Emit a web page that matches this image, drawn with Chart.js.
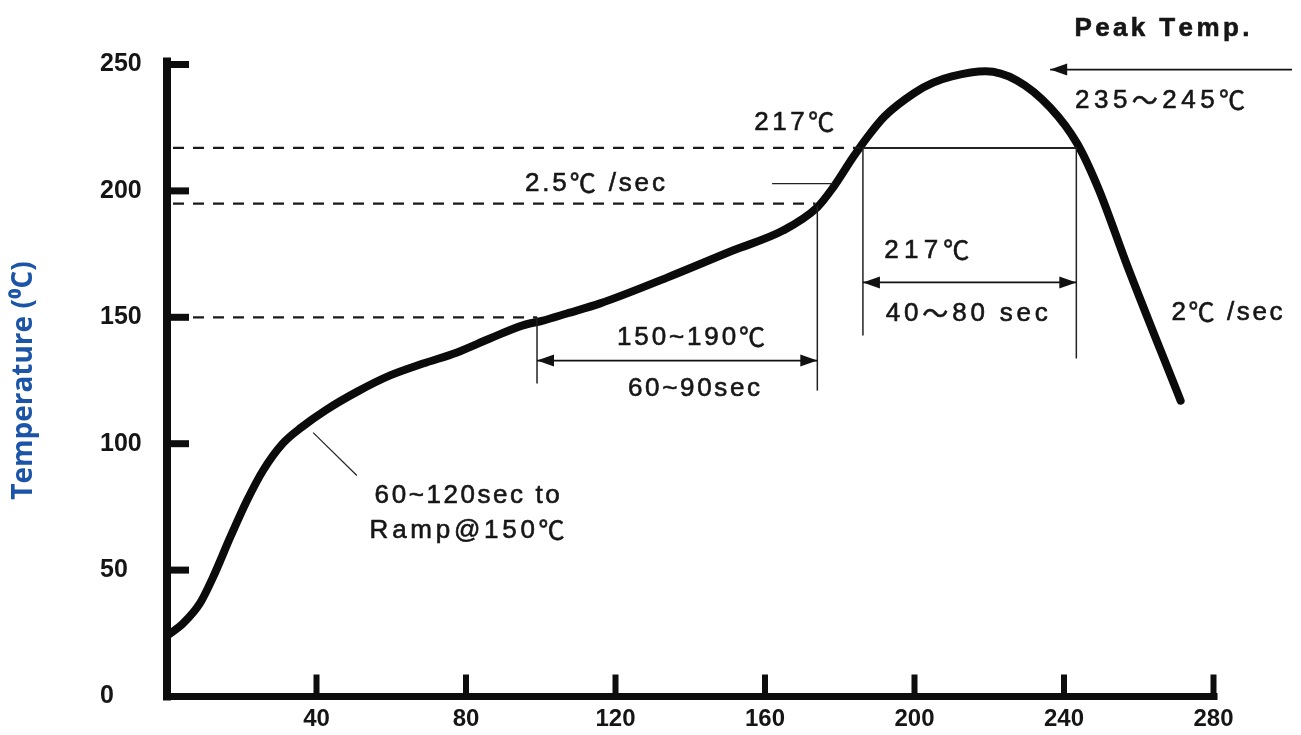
<!DOCTYPE html>
<html>
<head>
<meta charset="utf-8">
<script src="https://cdn.jsdelivr.net/npm/chart.js@4.4.1/dist/chart.umd.min.js"></script>
<style>
html,body{margin:0;padding:0;background:#fff;}
#wrap{width:1301px;height:735px;position:relative;}
</style>
</head>
<body>
<div id="wrap"><canvas id="c" width="1301" height="735"></canvas></div>
<script>
const timeSec = [0, 4.3, 8.8, 12.3, 16.9, 21.4, 25.7, 31, 36, 42.5, 50.8, 59.7, 68.5, 77.6, 86.4, 95.2, 100.6, 107, 115.9, 133.8, 151.4, 164.8, 173.9, 178.2, 183.5, 187.3, 192, 200, 205, 210, 219, 227.4, 236.3, 243.5, 249.1, 257.1, 271.2];
const tempC   = [24, 28.9, 36.8, 47.1, 62.9, 77.5, 89.4, 100.1, 106.5, 113.3, 120.5, 127, 131.7, 136.1, 141.6, 146.8, 148.7, 151.5, 155.5, 165.7, 176.4, 184.3, 193.4, 201.3, 213.2, 221.1, 229.5, 238.8, 242.8, 245.3, 247.3, 243.7, 233, 218.8, 201.3, 169.7, 117];
const xTickValues = [40, 80, 120, 160, 200, 240, 280];
const yTickValues = [0, 50, 100, 150, 200, 250];
const dashedLevels = [217, 195, 150];          // °C
const dashedEndTimes = [185.5, 173.5, 99];     // sec where curve is met

// ---- annotation geometry (in data units: sec, °C) ----
const guideLines = [
  {t0:186.2, T0:217, t1:243.5, T1:217, w:2},
  {t0:99,    T0:150, t1:99,    T1:123.8, w:1.5},
  {t0:174,   T0:194, t1:174,   T1:121,   w:1.5},
  {t0:186.2, T0:217, t1:186.2, T1:142.8, w:1.5},
  {t0:243.3, T0:217, t1:243.3, T1:133.7, w:1.5},
  {t0:161.9, T0:202.9, t1:178.2, T1:202.9, w:1.3},
  {t0:39.1,  T0:104.4, t1:50.8,  T1:87.4, w:1.2}
];
const arrows = [
  {t0:99,    t1:174,   T:132.9, both:true},
  {t0:186.2, t1:243.3, T:163.8, both:true},
  {t0:301,   t1:236.3, T:248,   both:false}
];
const notes = [
  {text:'217℃',         t:167.8, T:227.1, w:80},
  {text:'2.5℃ /sec',    t:114.5, T:202.9, w:140},
  {text:'150~190℃',     t:140.2, T:142,   w:148},
  {text:'60~90sec',      t:141,   T:121.8, w:132},
  {text:'217℃',         t:203.3, T:176.4, w:85},
  {text:'40〜80 sec',    t:214,   T:151.5, w:162},
  {text:'Peak Temp.',    t:266.2, T:264.2, w:175, bold:true},
  {text:'235〜245℃',    t:265.7, T:235.8, w:170},
  {text:'2℃ /sec',      t:283.6, T:151.9, w:111},
  {text:'60~120sec to',  t:80.3,  T:79.5,  w:185},
  {text:'Ramp@150℃',    t:80.3,  T:65.7,  w:195}
];

const FONT = "'Liberation Sans', Arial, sans-serif";
const CJK = "'Noto Sans CJK SC', 'Noto Sans CJK JP', sans-serif";

function drawNote(ctx, n, cx, cy) {
  const chars = [...n.text];
  const fonts = chars.map(ch => {
    if (ch === '℃' || ch === '〜') return (n.bold ? 'bold ' : '') + '26px ' + CJK;
    return (n.bold ? 'bold ' : '') + '26px ' + FONT;
  });
  const widths = chars.map((ch, i) => { ctx.font = fonts[i]; return ctx.measureText(ch).width; });
  const total = widths.reduce((a, b) => a + b, 0);
  const sp = Math.max(-1, (n.w - total) / Math.max(1, chars.length - 1));
  let xx = cx - (total + sp * (chars.length - 1)) / 2;
  ctx.textAlign = 'left';
  ctx.textBaseline = 'middle';
  chars.forEach((ch, i) => {
    ctx.font = fonts[i];
    ctx.fillText(ch, xx, cy);
    ctx.strokeText(ch, xx, cy);
    xx += widths[i] + sp;
  });
}

const overlay = {
  id: 'overlay',
  afterDatasetsDraw(chart) {
    const {ctx, scales:{x, y}} = chart;
    const px = v => x.getPixelForValue(v);
    const py = v => y.getPixelForValue(v);
    ctx.save();
    ctx.strokeStyle = '#1a1a1a';
    ctx.lineWidth = 2.3;
    ctx.setLineDash([11, 9]);
    dashedLevels.forEach((T, i) => {
      ctx.beginPath();
      ctx.moveTo(px(0) + 6, py(T));
      ctx.lineTo(px(dashedEndTimes[i]), py(T));
      ctx.stroke();
    });
    ctx.setLineDash([]);
    guideLines.forEach(g => {
      ctx.lineWidth = g.w;
      ctx.strokeStyle = '#222';
      ctx.beginPath();
      ctx.moveTo(px(g.t0), py(g.T0));
      ctx.lineTo(px(g.t1), py(g.T1));
      ctx.stroke();
    });
    ctx.fillStyle = '#111';
    const head = (xt, yt, dir) => {
      ctx.beginPath();
      ctx.moveTo(xt, yt);
      ctx.lineTo(xt - dir * 17, yt - 6);
      ctx.lineTo(xt - dir * 17, yt + 6);
      ctx.closePath();
      ctx.fill();
    };
    arrows.forEach(a => {
      const x0 = px(a.t0), x1 = px(a.t1), yy = py(a.T);
      ctx.lineWidth = 1.8;
      ctx.strokeStyle = '#111';
      ctx.beginPath(); ctx.moveTo(x0, yy); ctx.lineTo(x1, yy); ctx.stroke();
      const dir = x1 > x0 ? 1 : -1;
      head(x1, yy, dir);
      if (a.both) head(x0, yy, -dir);
    });
    ctx.fillStyle = '#0d0d0d';
    const x0p = px(0), y0p = py(0);
    ctx.fillRect(x0p - 4, py(250) - 7, 8, y0p - py(250) + 11);
    ctx.fillRect(x0p - 4, y0p - 3.5, px(280) - x0p + 8, 7);
    yTickValues.forEach(v => { if (v > 0) ctx.fillRect(x0p, py(v) - 3.5, 22, 7); });
    xTickValues.forEach(v => { ctx.fillRect(px(v) - 3, y0p - 22, 6, 22); });
    ctx.fillStyle = '#161616';
    ctx.strokeStyle = '#161616';
    ctx.lineWidth = 0.6;
    notes.forEach(n => drawNote(ctx, n, px(n.t), py(n.T)));
    ctx.restore();
  }
};

new Chart(document.getElementById('c'), {
  type: 'line',
  data: {
    datasets: [{
      data: timeSec.map((t, i) => ({x: t, y: tempC[i]})),
      borderColor: '#0b0b0b',
      borderWidth: 8,
      pointRadius: 0,
      cubicInterpolationMode: 'monotone',
      fill: false,
      borderCapStyle: 'round',
      borderJoinStyle: 'round'
    }]
  },
  options: {
    responsive: false,
    animation: false,
    devicePixelRatio: 1,
    layout: {padding: {left: 0, right: 87.5, top: 64.5, bottom: 0}},
    plugins: {
      legend: {display: false},
      tooltip: {enabled: false},
      title: {
        display: true,
        text: 'Temperature (⁰C)',
        position: 'left',
        fullSize: false,
        color: '#1c55a8',
        font: {family: "'Open Sans', sans-serif", size: 28, weight: 'bold', lineHeight: 1.2},
        padding: {top: 7.2, bottom: 59.2}
      }
    },
    scales: {
      x: {
        type: 'linear', min: 0, max: 280,
        afterBuildTicks: s => { s.ticks = xTickValues.map(v => ({value: v})); },
        ticks: {color: '#151515', padding: 8, font: {family: FONT, size: 24, weight: 'bold', lineHeight: 1.2}},
        grid: {display: false, drawTicks: false},
        border: {display: false},
        afterFit: s => { s.height = 38.5; }
      },
      y: {
        type: 'linear', min: 0, max: 250,
        afterBuildTicks: s => { s.ticks = yTickValues.map(v => ({value: v})); },
        ticks: {color: '#151515', crossAlign: 'far', padding: 0, font: {family: FONT, size: 25, weight: 'bold', lineHeight: 1.2}},
        grid: {display: false, drawTicks: false},
        border: {display: false},
        afterFit: s => { s.width = 67; }
      }
    }
  },
  plugins: [overlay]
});
</script>
</body>
</html>
